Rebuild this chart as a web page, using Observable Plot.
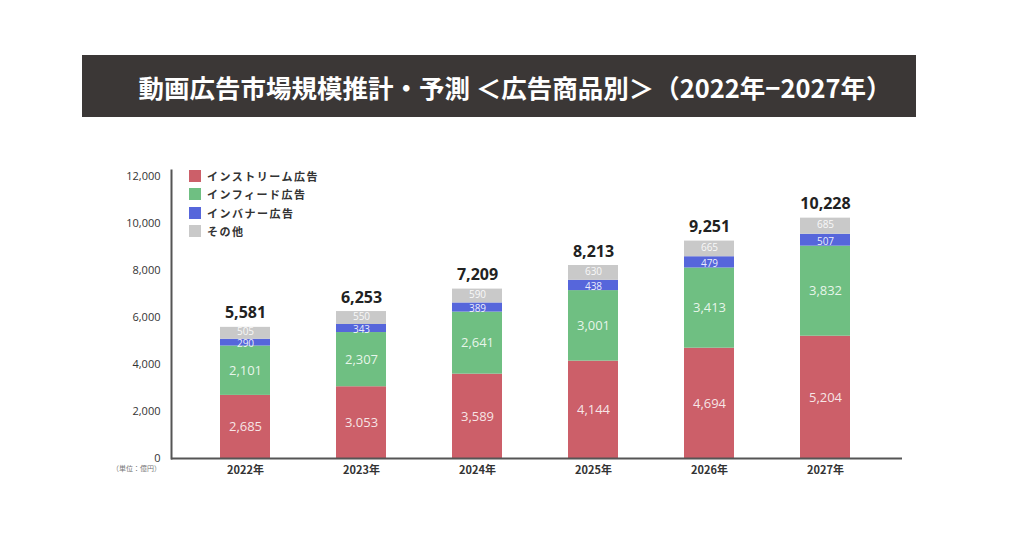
<!DOCTYPE html>
<html><head><meta charset="utf-8">
<script src="https://cdn.jsdelivr.net/npm/d3@7"></script>
<script src="https://cdn.jsdelivr.net/npm/@observablehq/plot@0.6"></script>
<style>
html,body{margin:0;padding:0;background:#fff;width:1024px;height:538px;overflow:hidden;font-family:"Noto Sans CJK JP","Noto Sans",sans-serif;}
#wrap{position:relative;width:1024px;height:538px;}
#chart{position:absolute;left:0;top:0;}
#title{position:absolute;left:82px;top:55px;width:834px;height:62px;background:#3b3736;color:#fff;font-weight:bold;font-size:25.5px;display:flex;align-items:center;justify-content:center;letter-spacing:0px;box-sizing:border-box;padding-left:32px;}
#legend{position:absolute;left:189px;top:167px;font-size:11px;font-weight:bold;color:#333;letter-spacing:1.5px;}
#legend .row{display:flex;align-items:center;height:18.3px;}
#legend .sw{width:12px;height:12px;margin-right:6px;}
#unit{position:absolute;left:112px;top:463px;font-size:7px;color:#777;}
</style></head>
<body><div id="wrap">
<div id="chart"></div>
<div id="title">動画広告市場規模推計・予測 ＜広告商品別＞（2022年−2027年）</div>
<div id="legend"></div>
<div id="unit">（単位：億円）</div>
</div>
<script>
const years = ["2022年","2023年","2024年","2025年","2026年","2027年"];
const seriesNames = ["インストリーム広告","インフィード広告","インバナー広告","その他"];
const seriesColors = ["#cc5f69","#6fbf82","#5666db","#c9c9c9"];
const instream = [2685,3053,3589,4144,4694,5204];
const instreamLabels = ["2,685","3.053","3,589","4,144","4,694","5,204"];
const infeed = [2101,2307,2641,3001,3413,3832];
const inbanner = [290,343,389,438,479,507];
const other = [505,550,590,630,665,685];
const totals = [5581,6253,7209,8213,9251,10228];
const yTicks = [0,2000,4000,6000,8000,10000,12000];

const fmt = d3.format(",");
const seriesValues = [instream, infeed, inbanner, other];
const rows = [];
seriesNames.forEach((s, si) => {
  years.forEach((y, yi) => {
    const v = seriesValues[si][yi];
    rows.push({year: y, series: s, value: v, label: si === 0 ? instreamLabels[yi] : fmt(v), idx: si});
  });
});
const totalRows = years.map((y, i) => ({year: y, total: totals[i]}));
const labelOpts = (k, extra) => Plot.stackY({x: "year", y: "value", z: "series", order: seriesNames,
  text: d => d.idx === k ? d.label : null, fill: "white", ...extra});

const chart = Plot.plot({
  width: 1024,
  height: 538,
  marginTop: 170,
  marginBottom: 80,
  marginLeft: 171,
  marginRight: 122,
  style: {fontFamily: "'Open Sans','Noto Sans CJK JP',sans-serif", background: "transparent"},
  x: {domain: years, paddingInner: 0.57, paddingOuter: 0.285, insetLeft: 14, insetRight: 17, label: null, tickSize: 0, tickPadding: 6},
  y: {domain: [0, 12000], insetTop: 6, label: null, ticks: yTicks, tickFormat: fmt, tickSize: 0, tickPadding: 11},
  color: {domain: seriesNames, range: seriesColors},
  marks: [
    Plot.barY(rows, {x: "year", y: "value", fill: "series", order: seriesNames}),
    Plot.text(rows, labelOpts(0, {fillOpacity: 0.85, fontSize: 13})),
    Plot.text(rows, labelOpts(1, {fillOpacity: 0.85, fontSize: 13})),
    Plot.text(rows, labelOpts(2, {fillOpacity: 0.9, fontSize: 10, dy: 1.5})),
    Plot.text(rows, labelOpts(3, {fillOpacity: 0.9, fontSize: 10, dy: -1.5})),
    Plot.text(totalRows, {x: "year", y: "total", text: d => fmt(d.total), dy: -14, fontSize: 16, fontWeight: "bold", fill: "#222"}),
    Plot.frame({anchor: "left", stroke: "#555", strokeWidth: 2}),
    Plot.ruleY([0], {stroke: "#555", strokeWidth: 2}),
    Plot.axisY({ticks: yTicks, tickFormat: fmt, tickSize: 0, tickPadding: 11, fontSize: 11, fill: "#333", label: null}),
    Plot.axisX({tickSize: 0, tickPadding: 8, fontSize: 11, fontWeight: "bold", fill: "#333", label: null, fontFamily: "'Noto Sans CJK JP',sans-serif"})
  ]
});
document.getElementById("chart").appendChild(chart);

const legend = document.getElementById("legend");
seriesNames.forEach((s, i) => {
  const r = document.createElement("div");
  r.className = "row";
  r.innerHTML = `<div class="sw" style="background:${seriesColors[i]}"></div><span>${s}</span>`;
  legend.appendChild(r);
});
</script>
</body></html>
